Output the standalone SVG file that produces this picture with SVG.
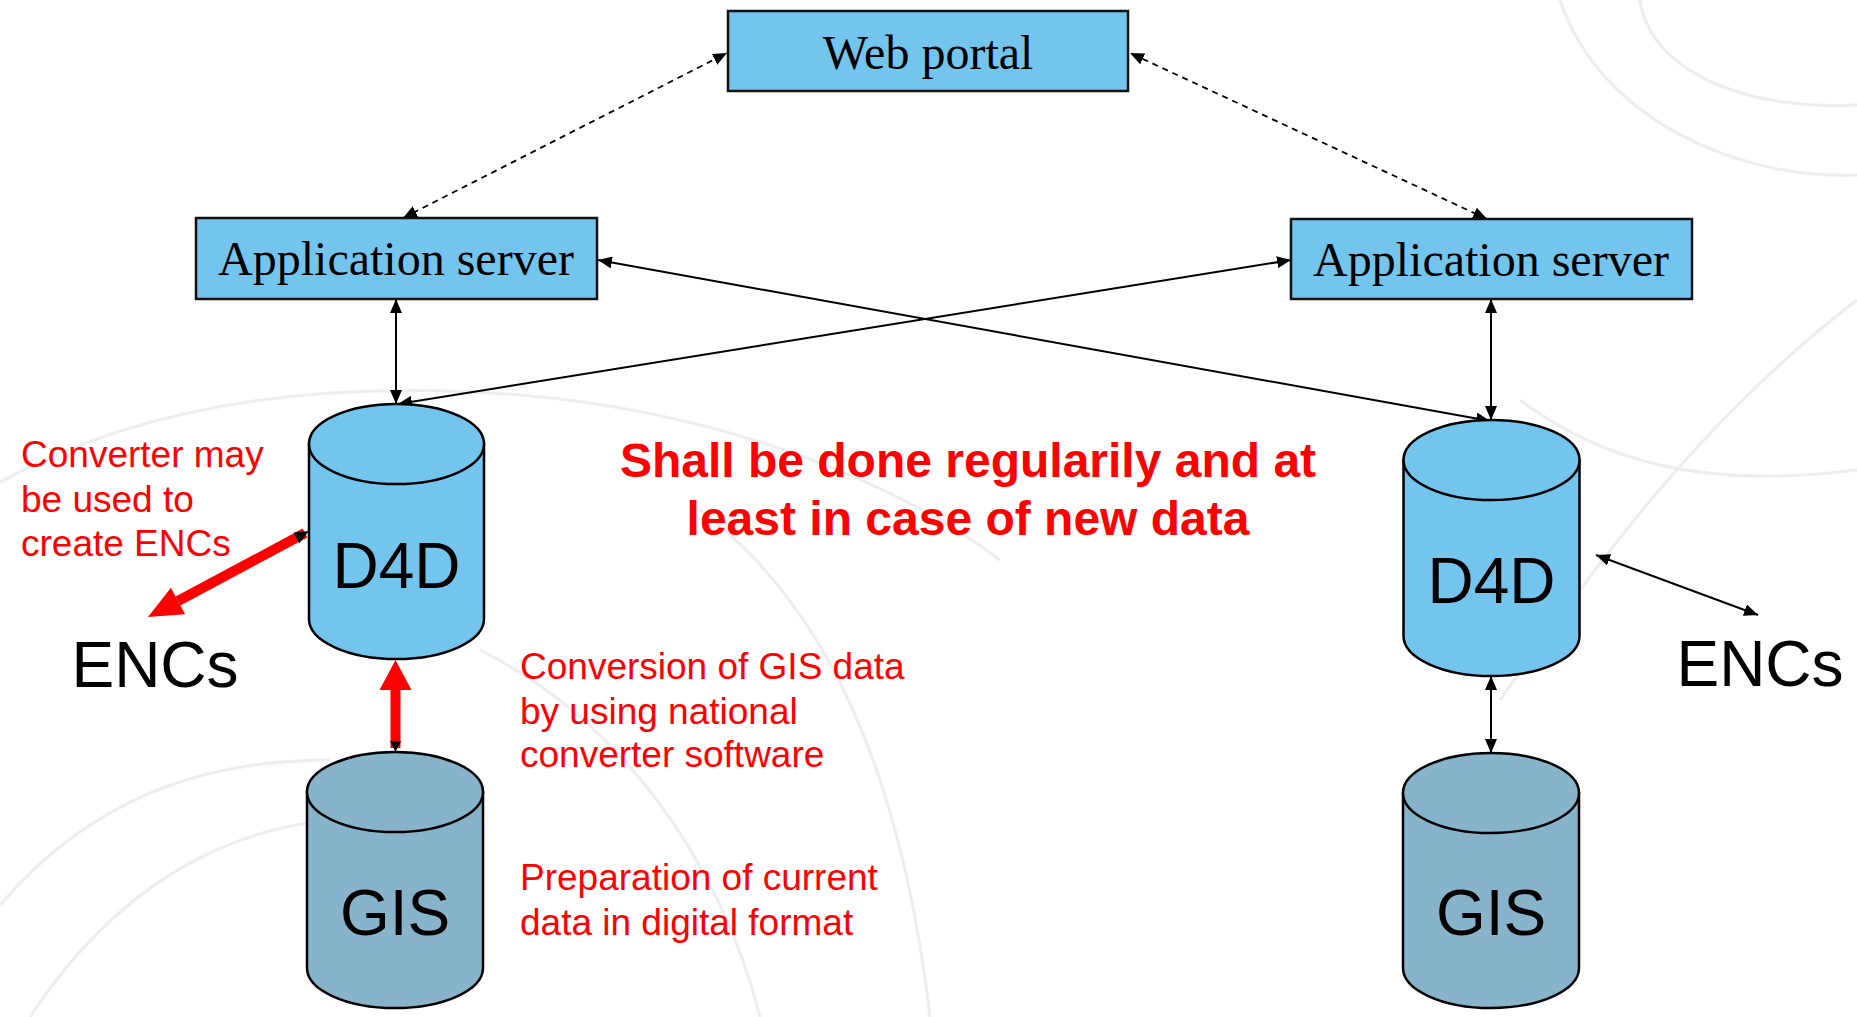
<svg xmlns="http://www.w3.org/2000/svg" width="1857" height="1017" viewBox="0 0 1857 1017">
<defs>
<style>
.box{fill:#73C5EE;stroke:#111;stroke-width:2.5}
.cyl{fill:#73C5EE;stroke:#000;stroke-width:2.5}
.gis{fill:#87B3CB;stroke:#000;stroke-width:2.5}
.serif{font-family:"Liberation Serif","Times New Roman",serif;font-size:48px;fill:#000;text-anchor:middle}
.big{font-family:"Liberation Sans",Arial,sans-serif;font-size:64px;fill:#000;text-anchor:middle}
.note{font-family:"Liberation Sans",Arial,sans-serif;font-size:37px;fill:#FF0000}
.bold{font-family:"Liberation Sans",Arial,sans-serif;font-size:48px;font-weight:bold;fill:#FF0000;text-anchor:middle}
.thin{stroke:#000;stroke-width:2;fill:none;marker-start:url(#ah);marker-end:url(#ah)}
.dash{stroke:#000;stroke-width:1.8;fill:none;stroke-dasharray:6 5;marker-start:url(#ah);marker-end:url(#ah)}
.bg{fill:none;stroke:#EDEDF3;stroke-width:3}
</style>
<marker id="ah" viewBox="0 0 14 12" refX="14" refY="6" markerWidth="14" markerHeight="12" markerUnits="userSpaceOnUse" orient="auto-start-reverse">
<path d="M0,0 L14,6 L0,12 Z" fill="#000"/>
</marker>
</defs>
<rect width="1857" height="1017" fill="#fff"/>
<g id="background">
<path class="bg" d="M0,482 C150,400 330,380 520,395 C700,410 880,470 1000,560"/>
<path class="bg" d="M0,905 C90,800 200,760 330,760"/>
<path class="bg" d="M30,1017 C120,880 230,830 330,820"/>
<path class="bg" d="M480,650 C620,720 720,860 760,1017"/>
<path class="bg" d="M1520,400 C1600,460 1700,490 1857,470"/>
<path class="bg" d="M1640,0 C1650,70 1740,110 1857,105"/>
<path class="bg" d="M1560,0 C1600,120 1740,180 1857,175"/>
<path class="bg" d="M1857,300 C1700,420 1600,560 1500,700"/>
<path class="bg" d="M700,510 C820,600 900,760 930,1017"/>
</g>
<g id="connectors">
<path class="dash" d="M403,218 L727,53"/>
<path class="dash" d="M1487,219 L1130,53"/>
<path class="thin" d="M396,299 L396,404"/>
<path class="thin" d="M1491,299 L1491,420"/>
<path class="thin" d="M598,260 L1490,421"/>
<path class="thin" d="M1291,260 L398,404"/>
<path class="thin" d="M1596,555 L1758,615"/>
<path class="thin" d="M1491,676 L1491,753"/>
<g id="red-diag">
<path d="M178,601 L305,533" stroke="#FF0000" stroke-width="10" fill="none"/>
<path d="M148,617 L185.1,614.2 L170.9,587.8 Z" fill="#FF0000"/>
<path d="M309,531 L293.6,532.6 L299.3,543.2 Z" fill="#000"/>
</g>
<g id="red-vert">
<rect x="390.5" y="686" width="10" height="62" fill="#FF0000"/>
<path d="M395.5,660 L411.5,690 L379.5,690 Z" fill="#FF0000"/>
<path d="M395.5,752 L390,741 L401,741 Z" fill="#000"/>
</g>
</g>
<g id="web-portal">
<rect class="box" x="728" y="11" width="400" height="80"/>
<text class="serif" x="928" y="69">Web portal</text>
</g>
<g id="app-server-left">
<rect class="box" x="196" y="218" width="401" height="81"/>
<text class="serif" x="396" y="275">Application server</text>
</g>
<g id="app-server-right">
<rect class="box" x="1291" y="219" width="401" height="80"/>
<text class="serif" x="1491" y="276">Application server</text>
</g>
<g id="d4d-left">
<path class="cyl" d="M309,444 L309,619 A87.5,40 0 0 0 484,619 L484,444 Z"/>
<ellipse class="cyl" cx="396.5" cy="444" rx="87.5" ry="40"/>
<text class="big" x="396.5" y="588">D4D</text>
</g>
<g id="d4d-right">
<path class="cyl" d="M1403.5,460 L1403.5,636 A88,40 0 0 0 1579.5,636 L1579.5,460 Z"/>
<ellipse class="cyl" cx="1491.5" cy="460" rx="88" ry="40"/>
<text class="big" x="1491.5" y="603">D4D</text>
</g>
<g id="gis-left">
<path class="gis" d="M307,792 L307,968 A88,40 0 0 0 483,968 L483,792 Z"/>
<ellipse class="gis" cx="395" cy="792" rx="88" ry="40"/>
<text class="big" x="395" y="935">GIS</text>
</g>
<g id="gis-right">
<path class="gis" d="M1403,793 L1403,968 A88,40 0 0 0 1579,968 L1579,793 Z"/>
<ellipse class="gis" cx="1491" cy="793" rx="88" ry="40"/>
<text class="big" x="1491" y="935">GIS</text>
</g>
<g id="encs-left">
<text class="big" x="155" y="687">ENCs</text>
</g>
<g id="encs-right">
<text class="big" x="1760" y="686">ENCs</text>
</g>
<g id="labels">
<text class="note" x="21" y="467">Converter may</text>
<text class="note" x="21" y="512">be used to</text>
<text class="note" x="21" y="556">create ENCs</text>
<text class="note" x="520" y="679">Conversion of GIS data</text>
<text class="note" x="520" y="724">by using national</text>
<text class="note" x="520" y="767">converter software</text>
<text class="note" x="520" y="890">Preparation of current</text>
<text class="note" x="520" y="935">data in digital format</text>
<text class="bold" x="968" y="477">Shall be done regularily and at</text>
<text class="bold" x="968" y="535">least in case of new data</text>
</g>
</svg>
